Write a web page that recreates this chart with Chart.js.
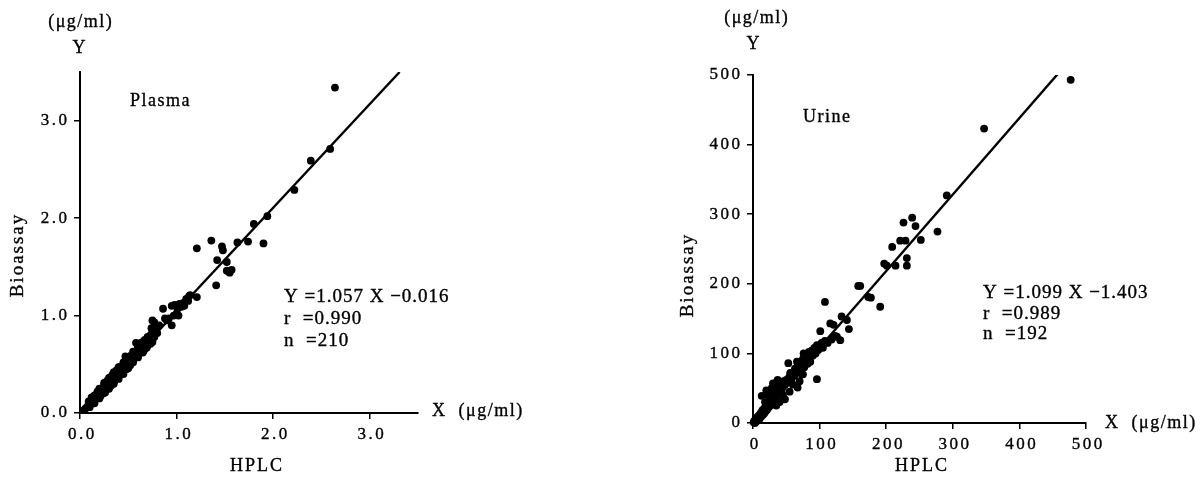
<!DOCTYPE html>
<html>
<head>
<meta charset="utf-8">
<script src="https://cdn.jsdelivr.net/npm/chart.js@4.4.0/dist/chart.umd.min.js"></script>
<style>
  body { margin: 0; background: #fff; width: 1203px; height: 482px; overflow: hidden; }
  canvas { position: absolute; top: 0; }
</style>
</head>
<body>
<canvas id="plasmaChart" width="600" height="482" style="left:0"></canvas>
<canvas id="urineChart" width="603" height="482" style="left:600px"></canvas>
<script>
// -----------------------------
// Data
// -----------------------------
const plasmaTicks = [0, 1, 2, 3];
const urineTicks = [0, 100, 200, 300, 400, 500];

// [HPLC, Bioassay] in µg/ml
const plasmaPoints = [
  [0.04,0.03],[0.06,0.05],[0.08,0.07],[0.09,0.12],[0.10,0.10],[0.10,0.06],[0.11,0.09],[0.12,0.12],
  [0.12,0.16],[0.13,0.11],[0.14,0.14],[0.15,0.13],[0.15,0.18],[0.15,0.10],[0.16,0.15],[0.17,0.17],
  [0.18,0.16],[0.18,0.22],[0.19,0.19],[0.20,0.18],[0.20,0.25],[0.20,0.15],[0.21,0.21],[0.21,0.17],
  [0.22,0.20],[0.22,0.24],[0.23,0.22],[0.24,0.25],[0.24,0.20],[0.25,0.23],[0.25,0.29],[0.25,0.31],
  [0.26,0.27],[0.26,0.21],[0.27,0.26],[0.27,0.30],[0.28,0.28],[0.28,0.33],[0.29,0.32],[0.29,0.25],
  [0.30,0.29],[0.30,0.33],[0.30,0.36],[0.30,0.25],[0.31,0.31],[0.31,0.36],[0.32,0.35],[0.32,0.28],
  [0.33,0.33],[0.33,0.38],[0.34,0.36],[0.34,0.40],[0.35,0.34],[0.35,0.40],[0.35,0.42],[0.35,0.30],
  [0.36,0.38],[0.36,0.33],[0.37,0.36],[0.37,0.42],[0.38,0.40],[0.38,0.44],[0.39,0.38],[0.40,0.43],
  [0.40,0.37],[0.40,0.47],[0.40,0.35],[0.41,0.41],[0.41,0.47],[0.42,0.45],[0.43,0.43],[0.44,0.47],
  [0.44,0.41],[0.45,0.45],[0.45,0.50],[0.45,0.52],[0.45,0.40],[0.46,0.49],[0.47,0.58],[0.47,0.47],
  [0.48,0.51],[0.48,0.45],[0.49,0.49],[0.50,0.53],[0.50,0.57],[0.50,0.46],[0.51,0.51],[0.52,0.55],
  [0.52,0.49],[0.53,0.53],[0.53,0.59],[0.54,0.57],[0.55,0.55],[0.55,0.52],[0.55,0.63],[0.56,0.60],
  [0.57,0.58],[0.57,0.63],[0.58,0.72],[0.58,0.62],[0.59,0.60],[0.60,0.65],[0.60,0.58],[0.60,0.68],
  [0.60,0.57],[0.61,0.63],[0.62,0.70],[0.62,0.66],[0.63,0.64],[0.63,0.72],[0.64,0.70],[0.65,0.68],
  [0.65,0.73],[0.65,0.62],[0.66,0.72],[0.66,0.64],[0.67,0.66],[0.67,0.75],[0.68,0.73],[0.69,0.71],
  [0.69,0.67],[0.70,0.75],[0.70,0.69],[0.70,0.78],[0.71,0.77],[0.72,0.74],[0.72,0.78],[0.73,0.80],
  [0.73,0.71],[0.74,0.87],[0.74,0.77],[0.75,0.95],[0.75,0.83],[0.75,0.73],[0.76,0.80],[0.76,0.86],
  [0.77,0.93],[0.77,0.78],[0.78,0.88],[0.79,0.84],[0.80,0.82],[0.82,0.90],[0.86,1.07],[0.88,0.97],
  [0.90,0.95],[0.92,0.97],[0.95,0.90],[0.95,1.10],[0.97,1.00],[0.98,1.11],[1.00,1.02],[1.01,1.07],
  [1.02,1.00],[1.03,1.12],[1.05,1.09],[1.07,1.13],[1.08,1.10],[1.10,1.17],[1.12,1.15],[1.13,1.20],
  [1.14,1.21],[1.21,1.19],[1.21,1.69],[1.36,1.77],[1.41,1.31],[1.42,1.57],[1.47,1.71],[1.48,1.67],
  [1.52,1.55],[1.52,1.46],[1.55,1.44],[1.57,1.47],[1.63,1.75],[1.74,1.76],[1.80,1.94],[1.90,1.74],
  [1.94,2.02],[2.22,2.29],[2.39,2.59],[2.59,2.71],[2.64,3.34]
];

const urinePoints = [
  [1,1],[2,3],[3,0],[4,6],[5,2],[6,8],[7,5],[8,10],[9,4],[10,12],[11,8],[12,15],[13,10],[13,39],
  [14,18],[15,12],[16,20],[17,14],[18,22],[18,30],[19,17],[20,25],[20,47],[21,19],[22,28],[22,40],
  [23,22],[24,30],[25,24],[25,45],[26,33],[27,26],[28,35],[28,50],[29,29],[30,38],[30,57],[31,32],
  [32,40],[33,30],[34,44],[35,25],[35,36],[35,58],[36,48],[37,40],[37,62],[38,45],[39,52],[40,42],
  [40,30],[41,50],[42,55],[43,47],[44,58],[45,40],[45,52],[46,60],[48,34],[48,55],[50,62],[52,58],
  [53,86],[54,65],[55,45],[55,60],[56,70],[56,72],[58,64],[60,55],[60,72],[62,68],[63,78],[65,73],
  [66,88],[67,51],[68,80],[70,60],[70,75],[72,85],[73,70],[75,92],[75,70],[76,100],[77,80],[78,88],
  [80,95],[82,85],[84,102],[86,95],[86,88],[88,104],[90,97],[92,108],[94,100],[96,63],[96,112],[98,105],
  [100,110],[101,132],[103,115],[105,108],[108,174],[108,118],[112,115],[116,143],[118,120],[121,141],
  [123,125],[126,124],[131,119],[133,153],[141,148],[144,135],[158,197],[161,197],[173,181],[177,180],
  [191,167],[197,229],[201,226],[209,253],[214,226],[221,262],[226,288],[229,262],[231,237],[231,226],
  [239,295],[244,283],[252,263],[277,275],[291,327],[347,423],[477,493]
];

// regression line end points
const plasmaFit = [[0.02, 0.0], [3.31, 3.50]];
const urineFit = [[1.3, 0.0], [459, 503]];

const serif = '"Liberation Serif", "DejaVu Serif", serif';

// -----------------------------
// Text drawn on the canvas: spaced, slightly heavy lettering like the print.
// Letter spacing is done by hand, one glyph at a time.
// -----------------------------
const drawText = (ctx, t) => {
  const sp = t.spacing != null ? t.spacing : 2;
  ctx.save();
  ctx.font = (t.size || 18) + 'px ' + serif;
  ctx.fillStyle = '#000';
  ctx.strokeStyle = '#000';
  ctx.lineWidth = 0.35;
  ctx.textBaseline = 'middle';
  ctx.textAlign = 'left';
  ctx.translate(t.x, t.y);
  if (t.rotate) ctx.rotate(t.rotate);
  const chars = [...t.text];
  const widths = chars.map(c => ctx.measureText(c).width);
  const total = widths.reduce((a, b) => a + b, 0) + sp * (chars.length - 1);
  let cx = t.align === 'center' ? -total / 2 : t.align === 'right' ? -total : 0;
  chars.forEach((c, i) => {
    ctx.fillText(c, cx, 0);
    ctx.strokeText(c, cx, 0);
    cx += widths[i] + sp;
  });
  ctx.restore();
};

const paperText = {
  id: 'paperText',
  afterDraw(chart, args, opts) {
    const ctx = chart.ctx;
    const { x, y } = chart.scales;
    // tick labels, placed with the library's scales
    x.ticks.forEach(tk => drawText(ctx, {
      text: opts.fmt(tk.value), x: x.getPixelForValue(tk.value) + 1,
      y: x.top + 22, align: 'center', size: 17, spacing: 2.5
    }));
    y.ticks.forEach(tk => drawText(ctx, {
      text: opts.fmt(tk.value), x: y.right - 13,
      y: y.getPixelForValue(tk.value), align: 'right', size: 17, spacing: 2.5
    }));
    (opts.items || []).forEach(t => drawText(ctx, t));
  }
};

const toXY = arr => arr.map(p => ({ x: p[0], y: p[1] }));

const makeChart = (id, points, fit, ticks, fmt, pad, texts) => {
  const axis = (pos) => ({
    type: 'linear',
    position: pos,
    min: 0,
    max: pos === 'bottom' ? pad.xMax : pad.yMax,
    afterBuildTicks: s => { s.ticks = ticks.map(v => ({ value: v })); },
    afterFit: s => { if (pos === 'left') s.width = 50; else s.height = 40; },
    grid: { drawOnChartArea: false, drawTicks: true, tickLength: 6, color: '#000', lineWidth: 1.5 },
    border: { display: true, color: '#000', width: 2 },
    ticks: { display: false }
  });

  return new Chart(document.getElementById(id), {
    type: 'scatter',
    data: {
      datasets: [
        {
          data: toXY(points),
          backgroundColor: '#000',
          borderWidth: 0,
          pointRadius: 3.9,
          clip: 5
        },
        {
          type: 'line',
          data: toXY(fit),
          borderColor: '#000',
          borderWidth: 2.4,
          pointRadius: 0,
          fill: false
        }
      ]
    },
    options: {
      responsive: false,
      animation: false,
      devicePixelRatio: 1,
      layout: { padding: { left: pad.left, right: pad.right, top: pad.top, bottom: pad.bottom } },
      scales: { x: axis('bottom'), y: axis('left') },
      plugins: {
        legend: { display: false },
        tooltip: { enabled: false },
        paperText: { items: texts, fmt: fmt }
      }
    },
    plugins: [paperText]
  });
};

makeChart('plasmaChart', plasmaPoints, plasmaFit, plasmaTicks, v => v.toFixed(1),
  { left: 30, right: 182, top: 72, bottom: 29, xMax: 3.5, yMax: 3.5 },
  [
    { text: '(\u03bcg/ml)', x: 80, y: 22, align: 'center', spacing: 1.5 },
    { text: 'Y', x: 79, y: 48, align: 'center' },
    { text: 'Plasma', x: 130, y: 101, spacing: 1.5 },
    { text: 'Y =1.057 X \u22120.016', x: 284, y: 297, size: 19, spacing: 1 },
    { text: 'r  =0.990', x: 284, y: 319, size: 19, spacing: 1 },
    { text: 'n  =210', x: 284, y: 341, size: 19, spacing: 1 },
    { text: 'X  (\u03bcg/ml)', x: 432, y: 411, spacing: 1.5 },
    { text: 'HPLC', x: 256, y: 466, align: 'center' },
    { text: 'Bioassay', x: 18, y: 256, align: 'center', rotate: -Math.PI / 2, size: 19, spacing: 2 }
  ]);

makeChart('urineChart', urinePoints, urineFit, urineTicks, v => String(v),
  { left: 103, right: 117, top: 75, bottom: 19, xMax: 500, yMax: 500 },
  [
    { text: '(\u03bcg/ml)', x: 156, y: 18, align: 'center', spacing: 1.5 },
    { text: 'Y', x: 153, y: 44, align: 'center' },
    { text: 'Urine', x: 203, y: 117, spacing: 1.5 },
    { text: 'Y =1.099 X \u22121.403', x: 383, y: 293, size: 19, spacing: 1 },
    { text: 'r  =0.989', x: 383, y: 314, size: 19, spacing: 1 },
    { text: 'n  =192', x: 383, y: 334, size: 19, spacing: 1 },
    { text: 'X  (\u03bcg/ml)', x: 505, y: 423, spacing: 1.5 },
    { text: 'HPLC', x: 321, y: 466, align: 'center' },
    { text: 'Bioassay', x: 88, y: 276, align: 'center', rotate: -Math.PI / 2, size: 19, spacing: 2 }
  ]);
</script>
</body>
</html>
